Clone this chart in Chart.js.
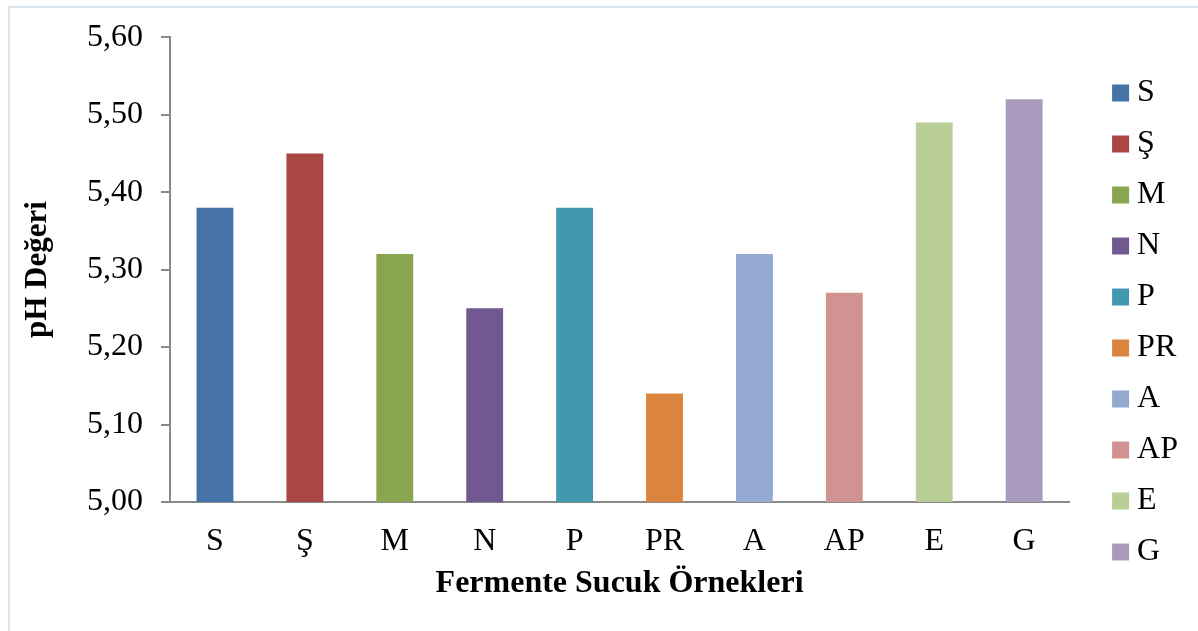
<!DOCTYPE html>
<html>
<head>
<meta charset="utf-8">
<script src="https://cdn.jsdelivr.net/npm/chart.js@4/dist/chart.umd.min.js"></script>
<style>
  html, body { margin: 0; padding: 0; background: #fff; }
  #wrap { position: relative; width: 1198px; height: 631px; }
  #frame { position: absolute; left: 8px; top: 6px; right: -4px; bottom: -4px;
           border-top: 2px solid #dce6f2; border-left: 2px solid #dce6f2; }
  canvas { position: absolute; left: 0; top: 0; }
</style>
</head>
<body>
<div id="wrap">
  <div id="frame"></div>
  <canvas id="chart" width="1198" height="631"></canvas>
</div>
<script>
/* ========= DATA ========= */
const categories = ["S", "Ş", "M", "N", "P", "PR", "A", "AP", "E", "G"];
const phValues = [5.38, 5.45, 5.32, 5.25, 5.38, 5.14, 5.32, 5.27, 5.49, 5.52];
const barColors = ["#4572a7", "#aa4643", "#89a54e", "#71588f", "#4198af",
                   "#db843d", "#93a9cf", "#d19392", "#b9cd96", "#a99bbd"];
const yTickLabels = ["5,00", "5,10", "5,20", "5,30", "5,40", "5,50", "5,60"];
const yTitle = "pH Değeri";
const xTitle = "Fermente Sucuk Örnekleri";

const FONT = "'Liberation Serif', 'Times New Roman', serif";
const AXIS = "#898989";

/* ========= CHART ========= */
new Chart(document.getElementById("chart"), {
  type: "bar",
  data: {
    labels: categories,
    datasets: [{
      data: phValues,
      backgroundColor: barColors,
      borderWidth: 0,
      barPercentage: 0.41,
      categoryPercentage: 1
    }]
  },
  options: {
    responsive: false,
    animation: false,
    events: [],
    layout: { padding: { top: 22, bottom: 8, right: 10, left: 0 } },
    plugins: {
      tooltip: { enabled: false },
      legend: {
        position: "right",
        onClick: null,
        labels: {
          usePointStyle: true,
          boxWidth: 1,
          boxHeight: 17,
          padding: 19,
          color: "#000",
          font: { family: FONT, size: 32 },
          generateLabels: () => categories.map((c, i) => ({
            text: c,
            fillStyle: barColors[i],
            strokeStyle: barColors[i],
            lineWidth: 0,
            pointStyle: "rect",
            hidden: false,
            index: i,
            datasetIndex: 0
          }))
        }
      }
    },
    scales: {
      x: {
        grid: { display: false, drawTicks: false },
        border: { color: AXIS, width: 2 },
        ticks: { color: "#000", padding: 20, font: { family: FONT, size: 32 } },
        title: {
          display: true, text: xTitle, color: "#000",
          font: { family: FONT, size: 32, weight: "bold" },
          padding: { top: 0, bottom: 20 }
        },
        afterFit: s => { s.height = 121; }
      },
      y: {
        min: 5.0,
        max: 5.6,
        grid: { drawOnChartArea: false, tickLength: 9, color: AXIS, lineWidth: 2 },
        border: { color: AXIS, width: 2 },
        ticks: {
          stepSize: 0.1,
          padding: 18,
          color: "#000",
          font: { family: FONT, size: 32 },
          callback: (v, i) => yTickLabels[i]
        },
        title: {
          display: true, text: yTitle, color: "#000",
          font: { family: FONT, size: 31, weight: "bold" },
          padding: { top: 19, bottom: 0 }
        },
        afterFit: s => { s.width = 170; }
      },
      gap: {
        type: "linear",
        position: "right",
        display: true,
        grid: { display: false },
        border: { display: false },
        ticks: { display: false },
        afterFit: s => { s.width = 32; }
      }
    }
  }
});
</script>
</body>
</html>
